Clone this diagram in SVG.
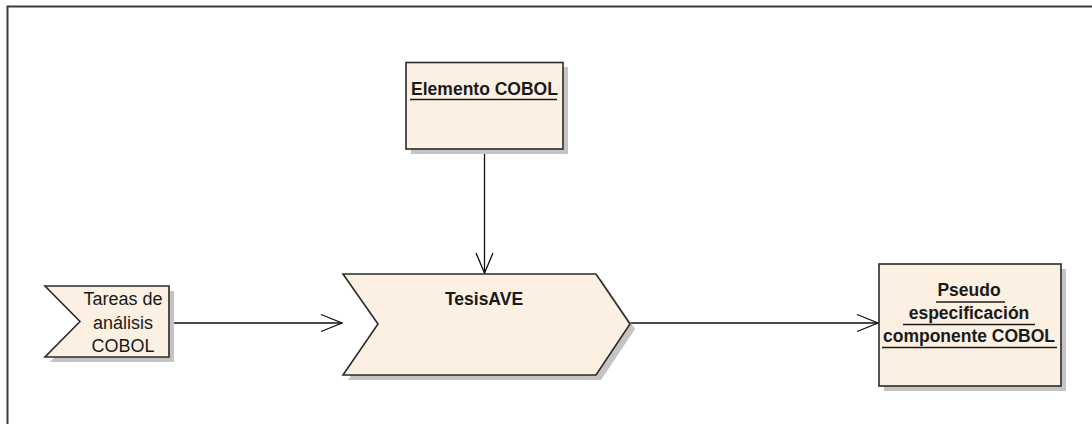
<svg xmlns="http://www.w3.org/2000/svg" width="1092" height="424" viewBox="0 0 1092 424">
<defs>
<style>
.shadow{fill:#c4c4c4;stroke:none}
.node{fill:#fbf0e2;stroke:#2a2a2a;stroke-width:1.6}
.conn{fill:none;stroke:#111;stroke-width:1.3}
.head{fill:none;stroke:#111;stroke-width:1.3}
.b{font-family:"Liberation Sans",Arial,sans-serif;font-weight:bold;font-size:17.5px;fill:#1a1a1a;text-anchor:middle}
.r{font-family:"Liberation Sans",Arial,sans-serif;font-size:18px;fill:#1a1a1a;text-anchor:middle}
.u{stroke:#1a1a1a;stroke-width:1.5}
</style>
</defs>
<rect width="1092" height="424" fill="#ffffff"/>
<path d="M7.5,424 V6.5 H1092" fill="none" stroke="#3c3c3c" stroke-width="2"/>

<g id="connectors">
<line class="conn" x1="484.5" y1="149" x2="484.5" y2="273"/>
<path class="head" d="M476,253 L484.5,273 L493,253"/>
<line class="conn" x1="169" y1="323" x2="342" y2="323"/>
<path class="head" d="M321,314.5 L342,323 L321,331.5"/>
<line class="conn" x1="630" y1="323" x2="878" y2="323"/>
<path class="head" d="M857,314.5 L878,323 L857,331.5"/>
</g>

<g id="elemento-cobol">
<rect class="shadow" x="411" y="67" width="157" height="87"/>
<rect class="node" x="406" y="62.5" width="157" height="86.5"/>
<text class="b" x="484.5" y="95">Elemento COBOL</text>
<line class="u" x1="410" y1="99.5" x2="557" y2="99.5"/>
</g>

<g id="tareas">
<polygon class="shadow" points="50,291 174,291 174,362 50,362 85,326"/>
<polygon class="node" points="45,286 169,286 169,357 45,357 80,321.5"/>
<text class="r" x="123" y="305">Tareas de</text>
<text class="r" x="123" y="329">análisis</text>
<text class="r" x="123" y="352">COBOL</text>
</g>

<g id="tesisave">
<polygon class="shadow" points="348,279 601,279 635,329 601,380 348,380 383,329"/>
<polygon class="node" points="343,274 596,274 630,324 596,375 343,375 378,324"/>
<text class="b" x="484" y="305">TesisAVE</text>
</g>

<g id="pseudo">
<rect class="shadow" x="884" y="269" width="182" height="122"/>
<rect class="node" x="879" y="264" width="182" height="122"/>
<text class="b" x="969" y="296">Pseudo</text>
<line class="u" x1="936" y1="302" x2="1005" y2="302"/>
<text class="b" x="969" y="319">especificación</text>
<line class="u" x1="903" y1="324.5" x2="1035" y2="324.5"/>
<text class="b" x="969" y="342">componente COBOL</text>
<line class="u" x1="882" y1="347.5" x2="1057" y2="347.5"/>
</g>
</svg>
